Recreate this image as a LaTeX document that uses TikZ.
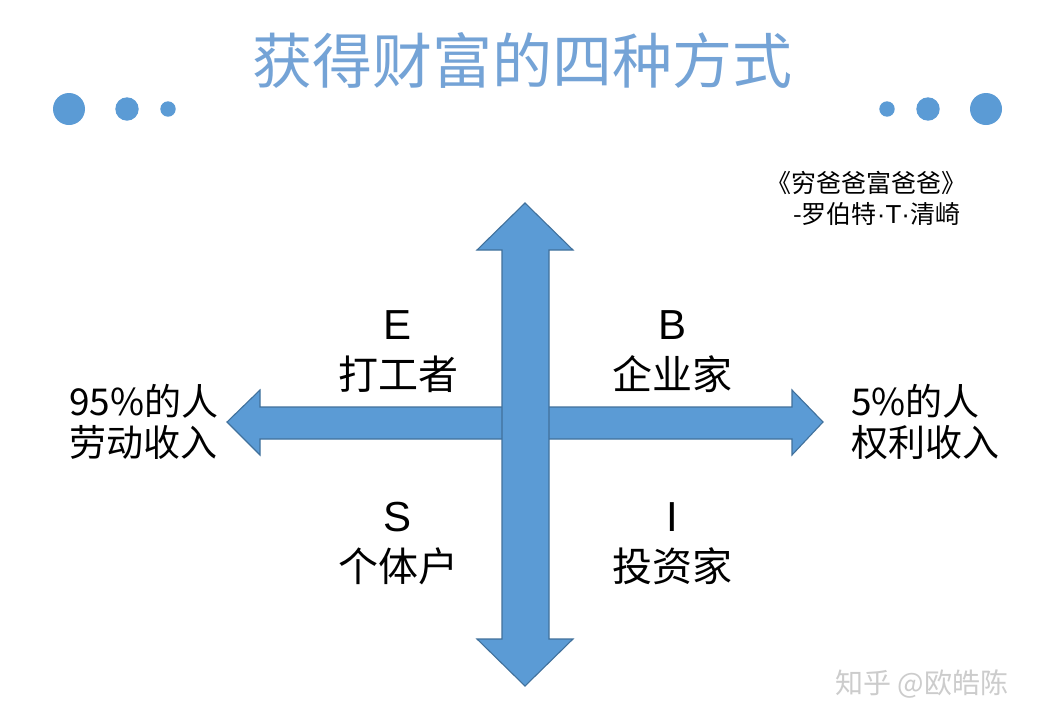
\documentclass[tikz,border=0pt]{standalone}
\usepackage{fontspec}
\setmainfont{Liberation Sans}
\newfontfamily\cjk{Noto Sans CJK SC}
\definecolor{quadblue}{HTML}{5B9BD5}
\definecolor{quadedge}{HTML}{41719C}
\definecolor{titleblue}{HTML}{74A3D6}

\begin{document}
\begin{tikzpicture}[x=1pt,y=-1pt,
  blockarrow/.style={fill=quadblue,draw=quadedge,line width=1.1pt,line join=miter},
  dot/.style={fill=quadblue},
  letter/.style={font=\fontsize{42}{42}\selectfont,inner sep=0pt},
  role/.style={font=\cjk\fontsize{40}{40}\selectfont,inner sep=0pt},
  share/.style={font=\cjk\fontsize{37}{41}\selectfont,align=left,inner sep=0pt,anchor=west},
  source/.style={font=\cjk\fontsize{25}{31}\selectfont,inner sep=0pt,anchor=west}
  ]
  \useasboundingbox[fill=white] (0,0) rectangle (1046,726);

  % title and dots
  \node[font=\cjk\fontsize{60}{60}\selectfont,text=titleblue,inner sep=0pt] (title) at (522,60) {获得财富的四种方式};
  \fill[dot] (69,109) circle (16);
  \fill[dot] (127,109) circle (11.7);
  \fill[dot] (168,109) circle (7.7);
  \fill[dot] (887,109) circle (7.7);
  \fill[dot] (928,109) circle (11.7);
  \fill[dot] (986,109) circle (16);

  % book
  \node[source] (book) at (766,183) {《穷爸爸富爸爸》};
  \node[source] (author) at (793,214) {-罗伯特{\rmfamily\fontsize{26}{31}\selectfont ·T·}清崎};

  % the two double arrows
  \draw[blockarrow] (227,422) -- (260,390) -- (260,407) -- (792,407) -- (792,390)
    -- (823,422) -- (792,455) -- (792,439) -- (260,439) -- (260,455) -- cycle;
  \draw[blockarrow] (525,203) -- (573,250) -- (549,250) -- (549,639) -- (573,639)
    -- (525,686) -- (477,639) -- (502,639) -- (502,250) -- (477,250) -- cycle;

  % quadrants
  \node[letter] (E) at (398,325) {E};
  \node[role] (employee) at (398,374) {打工者};
  \node[letter] (B) at (672,325) {B};
  \node[role] (business) at (672,374) {企业家};
  \node[letter] (S) at (398,517) {S};
  \node[role] (selfemployed) at (398,566) {个体户};
  \node[letter] (I) at (672,517) {I};
  \node[role] (investor) at (672,566) {投资家};

  % left and right ends
  \node[share] (labour) at (69,422) {95\%的人\\劳动收入};
  \node[share] (rights) at (851,422) {5\%的人\\权利收入};

  \node[font=\cjk\fontsize{28}{28}\selectfont,text=black!20,inner sep=0pt] (mark) at (922,684) {知乎 @欧皓陈};
\end{tikzpicture}
\end{document}
